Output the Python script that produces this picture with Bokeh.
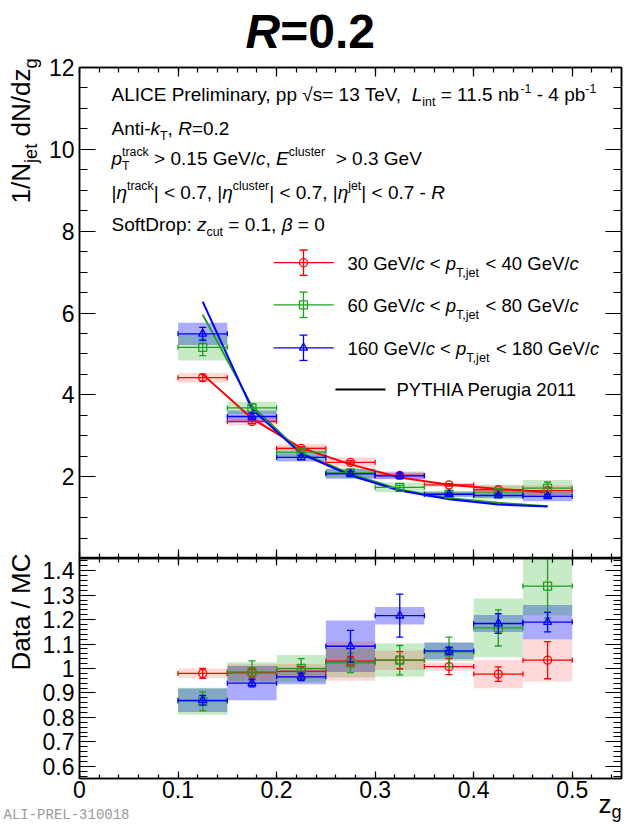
from math import pi
from bokeh.plotting import figure
from bokeh.models import (Range1d, LinearAxis, FixedTicker, Label, NumeralTickFormatter,
                          CustomLabelingPolicy)
from bokeh.layouts import column
from bokeh.embed import file_html
from bokeh.resources import INLINE

# ---------------- data ----------------
zg_edges = [0.10, 0.15, 0.20, 0.25, 0.30, 0.35, 0.40, 0.45, 0.50]

# 1/N_jet dN/dz_g : values, statistical and systematic uncertainties
dist_30_40 = [4.42, 3.35, 2.69, 2.35, 2.03, 1.80, 1.68, 1.66]
dist_30_40_stat = [0.08, 0.05, 0.04, 0.04, 0.04, 0.03, 0.03, 0.06]
dist_30_40_sys = [0.12, 0.10, 0.11, 0.12, 0.10, 0.05, 0.10, 0.13]
dist_60_80 = [5.16, 3.68, 2.60, 2.09, 1.74, 1.57, 1.62, 1.72]
dist_60_80_stat = [0.20, 0.10, 0.07, 0.05, 0.05, 0.05, 0.08, 0.15]
dist_60_80_sys = [0.32, 0.15, 0.14, 0.12, 0.12, 0.08, 0.18, 0.20]
dist_160_180 = [5.49, 3.47, 2.47, 2.07, 2.02, 1.57, 1.54, 1.52]
dist_160_180_stat = [0.16, 0.08, 0.05, 0.06, 0.07, 0.03, 0.04, 0.04]
dist_160_180_sys = [0.27, 0.15, 0.10, 0.12, 0.08, 0.06, 0.06, 0.12]

# PYTHIA Perugia 2011
pythia_30_40 = [4.50, 3.42, 2.70, 2.30, 1.98, 1.80, 1.70, 1.62]
pythia_60_80 = [5.96, 3.73, 2.58, 2.07, 1.68, 1.47, 1.36, 1.28]
pythia_160_180 = [6.28, 3.65, 2.56, 2.03, 1.66, 1.45, 1.32, 1.27]

# Data / MC
ratio_30_40 = [0.980, 0.982, 0.988, 1.030, 1.034, 1.008, 0.977, 1.034]
ratio_30_40_stat = [0.020, 0.020, 0.020, 0.020, 0.035, 0.033, 0.030, 0.076]
ratio_30_40_sys = [0.020, 0.035, 0.030, 0.080, 0.040, 0.017, 0.058, 0.087]
ratio_60_80 = [0.866, 0.986, 1.000, 1.023, 1.034, 1.068, 1.166, 1.337]
ratio_60_80_stat = [0.038, 0.045, 0.040, 0.040, 0.060, 0.060, 0.074, 0.130]
ratio_60_80_sys = [0.055, 0.040, 0.055, 0.060, 0.068, 0.037, 0.120, 0.120]
ratio_160_180 = [0.870, 0.940, 0.966, 1.091, 1.216, 1.072, 1.184, 1.190]
ratio_160_180_stat = [0.020, 0.015, 0.015, 0.065, 0.088, 0.015, 0.040, 0.040]
ratio_160_180_sys = [0.048, 0.070, 0.030, 0.105, 0.036, 0.034, 0.035, 0.070]

x_ticks = [0.0, 0.1, 0.2, 0.3, 0.4, 0.5]
top_y_ticks = [2, 4, 6, 8, 10, 12]
ratio_y_ticks = [0.6, 0.7, 0.8, 0.9, 1.0, 1.1, 1.2, 1.3, 1.4]

RED, GREEN, BLUE = "#ff0000", "#1f9e1f", "#0000ff"
FONT = "Liberation Sans"
K = 0.34   # Label baseline correction (fraction of the font size)

lo = zg_edges[:-1]
hi = zg_edges[1:]
xc = [(a + b) / 2 for a, b in zip(lo, hi)]

# ---------------- text helpers ----------------
W = {' ': 278, '|': 260, '-': 333, '.': 278, ',': 278, '/': 278, ':': 278, '=': 584, '<': 584, '>': 584,
     'A': 667, 'B': 667, 'C': 722, 'D': 722, 'E': 667, 'F': 611, 'G': 778, 'H': 722, 'I': 278, 'J': 500,
     'K': 667, 'L': 556, 'M': 833, 'N': 722, 'O': 778, 'P': 667, 'Q': 778, 'R': 722, 'S': 667, 'T': 611,
     'U': 722, 'V': 667, 'W': 944, 'X': 667, 'Y': 667, 'Z': 611,
     'a': 556, 'b': 556, 'c': 500, 'd': 556, 'e': 556, 'f': 278, 'g': 556, 'h': 556, 'i': 222, 'j': 222,
     'k': 500, 'l': 222, 'm': 833, 'n': 556, 'o': 556, 'p': 556, 'q': 556, 'r': 333, 's': 500, 't': 278,
     'u': 556, 'v': 500, 'w': 722, 'x': 500, 'y': 500, 'z': 500, 'η': 556, 'β': 575, '√': 549}
for d in '0123456789':
    W[d] = 556


def tw(s):
    return sum(W.get(c, 556) for c in s) / 1000.0


def top_map(px, py):      # page pixel -> Label placement in the top panel
    return 0, 12, px - 79, 67 - py


def page_map(px, py):     # page pixel -> Label placement in the overlay
    return px, py, 0, 0


def rich(p, mapper, x, y, segs, size, sub=0.65, drop=0.3, raise_=0.42, rot=False,
         color="black", font=FONT, dry=False):
    """Lay out text segments; (x, y) = page pixel of the baseline start."""
    adv = 0.0
    for seg in segs:
        text, kind = seg[0], seg[1]
        ital = seg[2] if len(seg) > 2 else False
        advance = seg[3] if len(seg) > 3 else True
        if kind == 'n':
            fs, sh = size, 0.0
        elif kind == 'sub':
            fs, sh = size * sub, size * drop
        else:
            fs, sh = size * sub, -size * raise_
        w = tw(text) * fs
        core = text.strip(" ")
        lead = tw(text[:len(text) - len(text.lstrip(" "))]) * fs
        if not dry and core:
            for k, part in enumerate(core.split("  ")):
                pre = tw(core[:core.find(part)]) * fs if k else 0.0
                a = adv + lead + pre
                if rot:
                    px, py = x + sh - K * fs, y - a
                else:
                    px, py = x + a, y + sh - K * fs
                dx, dy, xo, yo = mapper(px, py)
                p.add_layout(Label(x=dx, y=dy, x_offset=xo, y_offset=yo, text=part.strip(" "),
                                   text_font=font, text_font_size=f"{fs:.1f}px",
                                   text_font_style="italic" if ital else "normal",
                                   text_color=color, text_baseline="alphabetic", text_align="left",
                                   angle=pi / 2 if rot else 0.0))
        if advance:
            adv += w
    return adv


HIDE = "for (const i of indices) indices.unset(i); return indices"


def add_axis(p, loc, ticks, minor, tick_in, minor_in, labelled):
    ax = LinearAxis(ticker=FixedTicker(ticks=ticks, minor_ticks=minor))
    ax.major_tick_in = tick_in
    ax.major_tick_out = 0
    ax.minor_tick_in = minor_in
    ax.minor_tick_out = 0
    ax.axis_line_color = "black"
    ax.axis_line_width = 1.5
    ax.major_tick_line_color = "black"
    ax.minor_tick_line_color = "black"
    ax.major_tick_line_width = 1.2
    ax.minor_tick_line_width = 1.2
    if labelled:
        ax.formatter = NumeralTickFormatter(format="0.[0]")
        ax.major_label_text_font = FONT
        ax.major_label_text_font_size = "23px"
        ax.major_label_text_color = "black"
        ax.major_label_standoff = 5 if loc == "left" else 2
    else:
        ax.major_label_text_font_size = "0px"
        ax.major_label_standoff = 0
        ax.major_label_policy = CustomLabelingPolicy(code=HIDE)
    p.add_layout(ax, loc)


x_minor = [round(0.02 * i, 2) for i in range(28)]
top_y_minor = [0.5 * i for i in range(25)]
ratio_y_minor = [round(0.56 + 0.02 * i, 2) for i in range(45)]

# ---------------- panels ----------------
top = figure(width=624, height=558, x_range=Range1d(0, 0.55), y_range=Range1d(0, 12),
             x_axis_type=None, y_axis_type=None, output_backend="svg", toolbar_location=None,
             min_border_left=79, min_border_right=3, min_border_top=67, min_border_bottom=0)
bot = figure(width=624, height=266, x_range=Range1d(0, 0.55), y_range=Range1d(0.55, 1.45),
             x_axis_type=None, y_axis_type=None, output_backend="svg", toolbar_location=None,
             min_border_left=79, min_border_right=3, min_border_top=0, min_border_bottom=46)
for p in (top, bot):
    p.outline_line_color = "black"
    p.outline_line_width = 1.5
    p.background_fill_color = "white"
    p.border_fill_color = "white"

# transparent overlay (separate root, absolutely positioned over the page) for texts outside the frames
ov = figure(width=624, height=824, x_range=Range1d(0, 624), y_range=Range1d(824, 0),
            x_axis_type=None, y_axis_type=None, output_backend="svg", toolbar_location=None,
            min_border_left=0, min_border_right=0, min_border_top=0, min_border_bottom=0,
            outline_line_color=None)
ov.title.text = ""
ov.title.text_font_size = "0px"
ov.title.standoff = 0
ov.title.visible = False
ov.background_fill_color = None
ov.border_fill_color = None
ov.styles = {"position": "absolute", "left": "0px", "top": "0px", "z-index": "10",
             "pointer-events": "none"}

add_axis(top, "left", top_y_ticks, top_y_minor, 16, 8, True)
add_axis(top, "right", top_y_ticks, top_y_minor, 16, 8, False)
add_axis(top, "below", x_ticks, x_minor, 9, 5, False)
add_axis(top, "above", x_ticks, x_minor, 9, 5, False)
add_axis(bot, "left", ratio_y_ticks, ratio_y_minor, 16, 8, True)
add_axis(bot, "right", ratio_y_ticks, ratio_y_minor, 16, 8, False)
add_axis(bot, "below", x_ticks, x_minor, 7, 4, True)
add_axis(bot, "above", x_ticks, x_minor, 7, 4, False)

FILL = {RED: (RED, 0.15), GREEN: ("#00a000", 0.22), BLUE: (BLUE, 0.33)}


def boxes(p, y, sys_, color):
    fc, fa = FILL[color]
    p.quad(left=lo, right=hi, bottom=[v - s for v, s in zip(y, sys_)], top=[v + s for v, s in zip(y, sys_)],
           fill_color=fc, fill_alpha=fa, line_color=None)


def points(p, y, stat, color, marker):
    lw = 1.3
    p.segment(x0=lo, x1=hi, y0=y, y1=y, line_color=color, line_width=lw)
    p.segment(x0=xc, x1=xc, y0=[v - s for v, s in zip(y, stat)], y1=[v + s for v, s in zip(y, stat)],
              line_color=color, line_width=lw)
    p.scatter(x=xc + xc, y=[v + s for v, s in zip(y, stat)] + [v - s for v, s in zip(y, stat)],
              marker="dash", size=7, line_color=color, line_width=lw)
    p.scatter(x=lo + hi, y=y + y, marker="dash", angle=pi / 2, size=5, line_color=color, line_width=lw)
    p.scatter(x=xc, y=y, marker=marker, size=8, fill_color=None, line_color=color, line_width=lw)


series_top = [
    (dist_30_40, dist_30_40_stat, dist_30_40_sys, pythia_30_40, RED, "circle"),
    (dist_60_80, dist_60_80_stat, dist_60_80_sys, pythia_60_80, GREEN, "square"),
    (dist_160_180, dist_160_180_stat, dist_160_180_sys, pythia_160_180, BLUE, "triangle"),
]
series_bot = [
    (ratio_30_40, ratio_30_40_stat, ratio_30_40_sys, RED, "circle"),
    (ratio_60_80, ratio_60_80_stat, ratio_60_80_sys, GREEN, "square"),
    (ratio_160_180, ratio_160_180_stat, ratio_160_180_sys, BLUE, "triangle"),
]

for y, st, sy, mc, c, m in reversed(series_top):
    boxes(top, y, sy, c)
for y, st, sy, mc, c, m in series_top:
    top.line(x=xc, y=mc, line_color=c, line_width=2)
for y, st, sy, mc, c, m in series_top:
    points(top, y, st, c, m)

for y, st, sy, c, m in reversed(series_bot):
    boxes(bot, y, sy, c)
for y, st, sy, c, m in series_bot:
    points(bot, y, st, c, m)

# ---------------- legend samples (top panel) ----------------
leg_rows = [7.23, 6.20, 5.15]
for yy, (_, _, _, _, c, m) in zip(leg_rows, series_top):
    top.segment(x0=[0.197], x1=[0.258], y0=[yy], y1=[yy], line_color=c, line_width=1.3)
    top.segment(x0=[0.2273], x1=[0.2273], y0=[yy - 0.31], y1=[yy + 0.31], line_color=c, line_width=1.3)
    top.scatter(x=[0.2273, 0.2273], y=[yy - 0.31, yy + 0.31], marker="dash", size=8, line_color=c, line_width=1.3)
    top.scatter(x=[0.2273], y=[yy], marker=m, size=8, fill_color=None, line_color=c, line_width=1.3)
top.segment(x0=[0.2597], x1=[0.3105], y0=[4.13], y1=[4.13], line_color="black", line_width=2)

# ---------------- texts inside the top frame ----------------
S = 19
rich(top, top_map, 111, 100, [("ALICE Preliminary, pp √s= 13 TeV, ", 'n'), ("L", 'n', True), ("int", 'sub'),
                              (" = 11.5 nb", 'n'), ("-1", 'sup'), (" - 4 pb", 'n'), ("-1", 'sup')], S)
rich(top, top_map, 111, 134, [("Anti-", 'n'), ("k", 'n', True), ("T", 'sub'), (", ", 'n'), ("R", 'n', True),
                              ("=0.2", 'n')], S)
rich(top, top_map, 111, 164, [("p", 'n', True), ("T", 'sub', False, False), ("track", 'sup'),
                              (" > 0.15 GeV/", 'n'), ("c", 'n', True), (", ", 'n'), ("E", 'n', True),
                              ("cluster", 'sup'), ("  > 0.3 GeV", 'n')], S)
rich(top, top_map, 111, 198, [("|", 'n'), ("η", 'n', True), ("track", 'sup'), ("| < 0.7, |", 'n'),
                              ("η", 'n', True), ("cluster", 'sup'), ("| < 0.7, |", 'n'), ("η", 'n', True),
                              ("jet", 'sup'), ("| < 0.7 - ", 'n'), ("R", 'n', True)], S)
rich(top, top_map, 111, 230, [("SoftDrop: ", 'n'), ("z", 'n', True), ("cut", 'sub'), (" = 0.1, ", 'n'),
                              ("β", 'n', True), (" = 0", 'n')], S)

LS = 18.5
for base, lo_s, hi_s in [(268.8, "30", "40"), (310.8, "60", "80"), (353.8, "160", "180")]:
    rich(top, top_map, 347, base, [(lo_s + " GeV/", 'n'), ("c", 'n', True), (" < ", 'n'), ("p", 'n', True),
                                   ("T,jet", 'sub'), (" < " + hi_s + " GeV/", 'n'), ("c", 'n', True)],
         LS, sub=0.68, drop=0.45)
rich(top, top_map, 396, 395.5, [("PYTHIA Perugia 2011", 'n')], LS)

# ---------------- texts outside the frames (overlay, page pixels) ----------------
ov.add_layout(Label(x=245, y=47 - K * 48, text="R", text_font=FONT, text_font_size="48px",
                    text_font_style="bold italic", text_baseline="alphabetic", text_color="black"))
ov.add_layout(Label(x=245 + 0.722 * 48, y=47 - K * 48, text="=0.2", text_font=FONT, text_font_size="48px",
                    text_font_style="bold", text_baseline="alphabetic", text_color="black"))

ytitle = [("1/", 'n'), ("N", 'n'), ("jet", 'sub'), (" dN/dz", 'n'), ("g", 'sub')]
wt = rich(ov, page_map, 0, 0, ytitle, 26, sub=0.7, dry=True)
rich(ov, page_map, 29, 58 + wt, ytitle, 26, sub=0.7, rot=True)
rtitle = [("Data / MC", 'n')]
wr = rich(ov, page_map, 0, 0, rtitle, 26, dry=True)
rich(ov, page_map, 29, 553 + wr, rtitle, 26, rot=True)

xtitle = [("z", 'n'), ("g", 'sub')]
wx = rich(ov, page_map, 0, 0, xtitle, 26, sub=0.7, dry=True)
rich(ov, page_map, 621 - wx, 812, xtitle, 26, sub=0.7, drop=0.2)

ov.add_layout(Label(x=3, y=819 - K * 14, text="ALI-PREL-310018", text_font="Liberation Mono",
                    text_font_size="14px", text_color="#9a9a9a", text_baseline="alphabetic"))

layout = column(top, bot)
open("out.html", "w").write(file_html([layout, ov], INLINE))
